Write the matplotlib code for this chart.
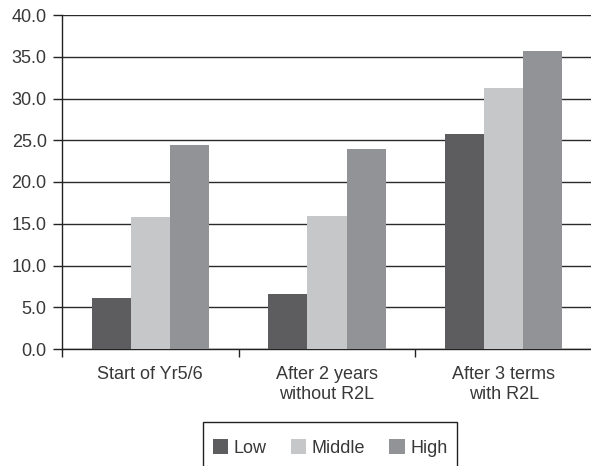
import numpy as np
import matplotlib
matplotlib.use("Agg")
import matplotlib.pyplot as plt
from matplotlib.patches import Rectangle

categories = ["Start of Yr5/6", "After 2 years\nwithout R2L", "After 3 terms\nwith R2L"]
series_names = ["Low", "Middle", "High"]
low = [6.1, 6.6, 25.7]
middle = [15.8, 15.9, 31.2]
high = [24.4, 23.9, 35.7]
y_ticks = [0.0, 5.0, 10.0, 15.0, 20.0, 25.0, 30.0, 35.0, 40.0]

colors = ["#5d5d5f", "#c6c7c9", "#929397"]
text_color = "#383838"
line_color = "#222222"

plt.rcParams["font.family"] = ["Liberation Sans", "DejaVu Sans"]
plt.rcParams["font.size"] = 13

W, H = 591, 466
fig = plt.figure(figsize=(W / 100, H / 100), dpi=100)
ax = fig.add_axes([62 / W, 1 - 349 / H, 530 / W, 334 / H])

x = np.arange(len(categories))
width = 0.222
for i, (vals, name) in enumerate(zip([low, middle, high], series_names)):
    ax.bar(x + (i - 1) * width, vals, width, color=colors[i], label=name, zorder=3)

ax.set_xlim(-0.5, len(categories) - 0.5)
ax.set_ylim(0, 40)
ax.set_yticks(y_ticks)
ax.set_yticklabels([f"{v:.1f}" for v in y_ticks], color=text_color)
ax.yaxis.grid(True, color="#2a2a2a", linewidth=1.0, zorder=0)
ax.set_axisbelow(True)

# category boundaries carry the tick marks, centres carry the labels
ax.set_xticks(np.arange(len(categories) + 1) - 0.5)
ax.set_xticklabels([])
ax.set_xticks(x, minor=True)
ax.set_xticklabels(categories, minor=True, color=text_color, linespacing=1.25)
ax.tick_params(axis="x", which="major", direction="out", length=6, width=1.0, color=line_color)
ax.tick_params(axis="x", which="minor", length=0, pad=12)
ax.tick_params(axis="y", direction="out", length=6.5, width=1.0, color=line_color, pad=4.5)

for side in ["top", "right"]:
    ax.spines[side].set_visible(False)
for side in ["left", "bottom"]:
    ax.spines[side].set_color(line_color)
    ax.spines[side].set_linewidth(1.0)

# legend entries without their own frame; the box is drawn separately
leg = fig.legend(loc="center", bbox_to_anchor=(330 / W, 1 - 448 / H),
                 ncol=3, frameon=False, borderaxespad=0,
                 handlelength=0.85, handleheight=0.85, handletextpad=0.3,
                 columnspacing=1.35, borderpad=0, fontsize=13)
for t in leg.get_texts():
    t.set_color(text_color)

fig.add_artist(Rectangle((203 / W, -0.05), (457 - 203) / W, 0.05 + 1 - 422 / H,
                         transform=fig.transFigure, fill=False,
                         edgecolor=line_color, linewidth=1.0))

fig.savefig("out.png", dpi=100)
